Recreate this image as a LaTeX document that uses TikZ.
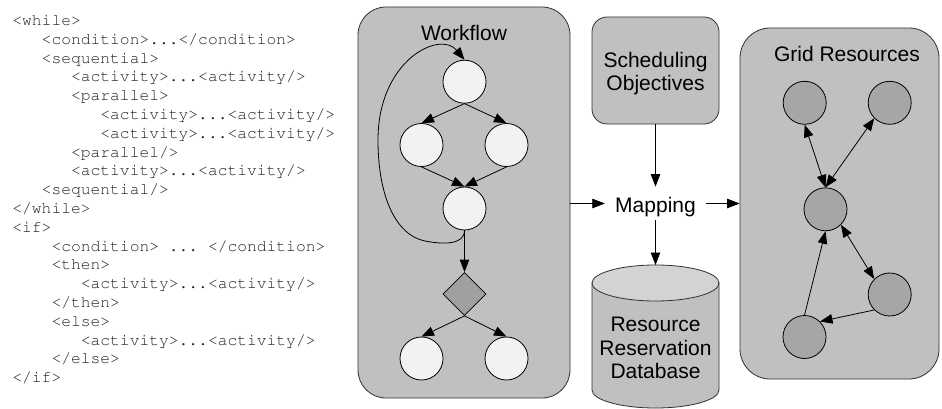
\documentclass[tikz,border=0pt]{standalone}
\usepackage[T1]{fontenc}
\usepackage{fontspec}
\setmainfont{Liberation Sans}
\newcommand\codefont{\fontencoding{T1}\fontfamily{pcr}\selectfont\frenchspacing}
\usetikzlibrary{arrows.meta,shapes.geometric}

\definecolor{panelgray}{HTML}{C0C0C0}
\definecolor{edgegray}{HTML}{303030}
\definecolor{tasklight}{HTML}{F2F2F2}
\definecolor{resdark}{HTML}{A6A6A6}
\definecolor{conddark}{HTML}{A0A0A0}
\definecolor{cyltop}{HTML}{D3D3D3}
\definecolor{codegray}{HTML}{222222}

\begin{document}
\begin{tikzpicture}[x=1pt,y=-1pt,
  line width=0.8pt,
  tip/.tip={Triangle[length=12.5pt,width=9.5pt]},
  arr/.style={-tip},
  biarr/.style={tip-tip},
  panel/.style={rectangle, draw=edgegray, fill=panelgray, inner sep=0pt},
  task/.style={circle, draw, fill=tasklight, minimum size=43pt, inner sep=0pt},
  res/.style={circle, draw, fill=resdark, minimum size=43pt, inner sep=0pt},
  cond/.style={diamond, draw, fill=conddark, minimum width=43pt, minimum height=43pt, inner sep=0pt},
  heading/.style={font=\fontsize{21}{23.5}\selectfont, inner sep=0pt, align=center},
  codeln/.style={font=\codefont\fontsize{16.3}{18.8}\selectfont, anchor=base west, inner sep=0pt, text=codegray},
]
\fill[white] (0,0) rectangle (942,409);
\useasboundingbox (0,0) rectangle (942,409);

% XML description of the workflow
\node[codeln] (c01) at ({12+0*9.78},{25.5+0*18.8})  {<while>};
\node[codeln] (c02) at ({12+3*9.78},{25.5+1*18.8})  {<condition>...</condition>};
\node[codeln] (c03) at ({12+3*9.78},{25.5+2*18.8})  {<sequential>};
\node[codeln] (c04) at ({12+6*9.78},{25.5+3*18.8})  {<activity>...<activity/>};
\node[codeln] (c05) at ({12+6*9.78},{25.5+4*18.8})  {<parallel>};
\node[codeln] (c06) at ({12+9*9.78},{25.5+5*18.8})  {<activity>...<activity/>};
\node[codeln] (c07) at ({12+9*9.78},{25.5+6*18.8})  {<activity>...<activity/>};
\node[codeln] (c08) at ({12+6*9.78},{25.5+7*18.8})  {<parallel/>};
\node[codeln] (c09) at ({12+6*9.78},{25.5+8*18.8})  {<activity>...<activity/>};
\node[codeln] (c10) at ({12+3*9.78},{25.5+9*18.8})  {<sequential/>};
\node[codeln] (c11) at ({12+0*9.78},{25.5+10*18.8}) {</while>};
\node[codeln] (c12) at ({12+0*9.78},{25.5+11*18.8}) {<if>};
\node[codeln] (c13) at ({12+4*9.78},{25.5+12*18.8}) {<condition> ... </condition>};
\node[codeln] (c14) at ({12+4*9.78},{25.5+13*18.8}) {<then>};
\node[codeln] (c15) at ({12+7*9.78},{25.5+14*18.8}) {<activity>...<activity/>};
\node[codeln] (c16) at ({12+4*9.78},{25.5+15*18.8}) {</then>};
\node[codeln] (c17) at ({12+4*9.78},{25.5+16*18.8}) {<else>};
\node[codeln] (c18) at ({12+7*9.78},{25.5+17*18.8}) {<activity>...<activity/>};
\node[codeln] (c19) at ({12+4*9.78},{25.5+18*18.8}) {</else>};
\node[codeln] (c20) at ({12+0*9.78},{25.5+19*18.8}) {</if>};

% panels
\node[panel, rounded corners=28pt, minimum width=212pt, minimum height=391pt] (wf) at (464,202.5) {};
\node[heading, anchor=base] (wftitle) at (464,41) {Workflow};

\node[panel, rounded corners=15pt, minimum width=127pt, minimum height=107pt] (sched) at (655.5,70.5) {};
\node[heading, font=\fontsize{21}{22.5}\selectfont] (schedtext) at (655.5,73.5) {Scheduling\\Objectives};

\node[panel, rounded corners=30pt, minimum width=199pt, minimum height=351pt] (grid) at (839.5,203.5) {};
\node[heading, anchor=base] (gridtitle) at (847,62) {Grid Resources};

% reservation database (cylinder)
\path[draw=edgegray, fill=panelgray] (592,283) -- (592,390)
  arc[start angle=180, end angle=360, x radius=63.5pt, y radius=18pt] -- (719,283) -- cycle;
\draw[draw=edgegray, fill=cyltop] (655.5,283) ellipse [x radius=63.5pt, y radius=18pt];
\coordinate (dbtop) at (655.5,265);
\node[heading] (db) at (655.5,348.2) {Resource\\Reservation\\Database};

% mapping
\node[heading, text height=25pt, text depth=8pt, inner xsep=10pt] (map) at (655.5,203.5) {Mapping};
\draw[arr] (wf.east |- map.west) -- (map.west);
\draw[arr] (map.east) -- (map.east -| grid.west);
\draw[arr] (sched.south) -- (map.north);
\draw[arr] (map.south) -- (dbtop);

% workflow graph
\node[task] (t1) at (464.5,81.7) {};
\node[task] (t2) at (421.5,145) {};
\node[task] (t3) at (506.5,145) {};
\node[task] (t4) at (464.5,208.5) {};
\node[cond] (d1) at (464.5,294) {};
\node[task] (t5) at (421.5,358.5) {};
\node[task] (t6) at (506.5,358.5) {};
\draw[arr] (t1.south) -- (t2.north);
\draw[arr] (t1.south) -- (t3.north);
\draw[arr] (t2.south) -- (t4.north);
\draw[arr] (t3.south) -- (t4.north);
\draw[arr] (t4.south) -- (d1.north);
\draw[arr] (d1.south) -- (t5.north);
\draw[arr] (d1.south) -- (t6.north);
\draw[arr] (t4.south) .. controls (464.5,246) and (440,244) .. (425,241)
  .. controls (395,235) and (378,195) .. (378,140)
  .. controls (378,60) and (440,30) .. (t1.north);

% grid resources graph
\node[res] (g1) at (804.7,102.8) {};
\node[res] (g2) at (889.7,102.8) {};
\node[res] (g3) at (825.5,209.3) {};
\node[res] (g4) at (889.7,294.5) {};
\node[res] (g5) at (804.5,337) {};
\draw[biarr] (g1.south) -- (g3.north);
\draw[biarr] (g2.south west) -- (g3.north);
\draw[biarr] (g3.south east) -- (g4.north west);
\draw[arr] (g4.south west) -- (g5.north east);
\draw[arr] (g5.north) -- (g3.south);
\end{tikzpicture}
\end{document}
